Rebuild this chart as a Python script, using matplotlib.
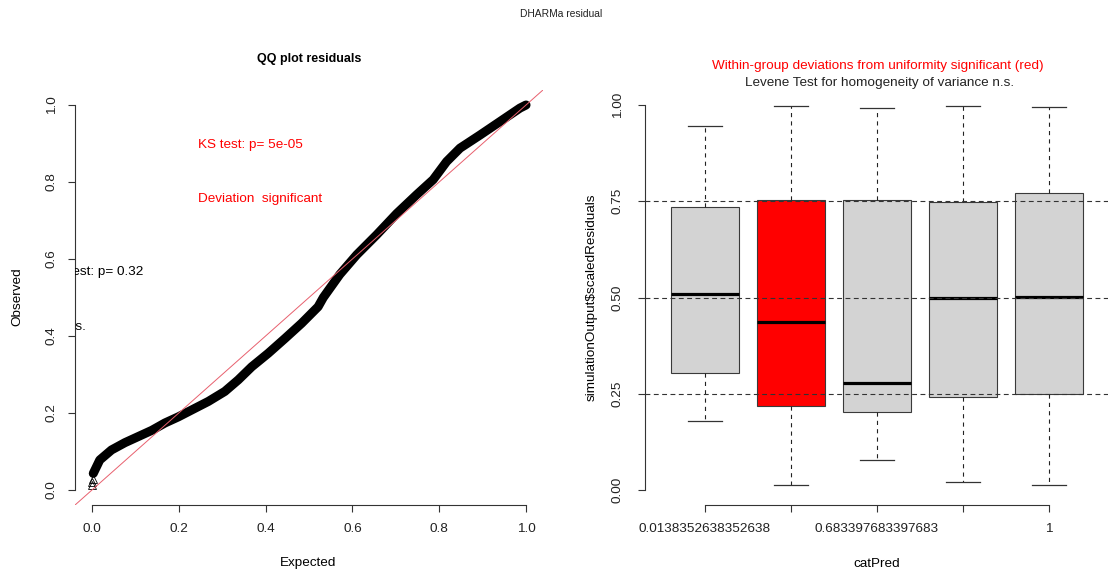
import matplotlib
matplotlib.use("Agg")
import matplotlib.pyplot as plt

plt.rcParams["font.family"] = ["Liberation Sans", "DejaVu Sans"]
plt.rcParams["lines.scale_dashes"] = False

W, H = 1108, 575

# QQ plot: expected vs observed quantiles of the scaled residuals
qq_expected = [0.003, 0.018, 0.045, 0.076, 0.107, 0.138, 0.168, 0.199, 0.230,
               0.268, 0.306, 0.337, 0.368, 0.406, 0.445, 0.483, 0.521, 0.533,
               0.571, 0.610, 0.656, 0.702, 0.748, 0.786, 0.817, 0.848, 0.894,
               0.940, 0.986, 1.0]
qq_observed = [0.043, 0.078, 0.104, 0.123, 0.139, 0.155, 0.174, 0.190, 0.208,
               0.230, 0.256, 0.286, 0.320, 0.355, 0.394, 0.433, 0.476, 0.500,
               0.560, 0.611, 0.663, 0.718, 0.767, 0.806, 0.853, 0.888, 0.922,
               0.957, 0.992, 1.0]
low_expected = [0.0, 0.001, 0.002]
low_observed = [0.012, 0.020, 0.028]

ks_text = "KS test: p= 5e-05"
ks_verdict = "Deviation  significant"
disp_text = "Dispersion test: p= 0.32"
disp_verdict = "Deviation n.s."

# boxplot of residuals per catPred group
cat_labels = ["0.0138352638352638", "", "0.683397683397683", "", "1"]
whislo = [0.179, 0.014, 0.079, 0.022, 0.014]
q1 = [0.305, 0.217, 0.203, 0.241, 0.250]
med = [0.509, 0.437, 0.277, 0.500, 0.502]
q3 = [0.736, 0.754, 0.754, 0.747, 0.771]
whishi = [0.946, 0.997, 0.993, 0.997, 0.995]
significant = [False, True, False, False, False]
ref_levels = [0.25, 0.5, 0.75]

FS = 9.7
AXCOL = "#333333"


def add_axes_px(x0, x1, ytop, ybot):
    return fig.add_axes([x0 / W, 1 - ybot / H, (x1 - x0) / W, (ybot - ytop) / H])


def r_style(ax, xb, yb):
    for s in ("top", "right"):
        ax.spines[s].set_visible(False)
    for s in ("left", "bottom"):
        ax.spines[s].set_color(AXCOL)
        ax.spines[s].set_linewidth(0.8)
    ax.spines["bottom"].set_bounds(*xb)
    ax.spines["left"].set_bounds(*yb)
    ax.tick_params(length=5, width=0.8, color=AXCOL, labelsize=FS,
                   labelcolor="#222222")
    ax.tick_params(axis="x", pad=8)
    for lab in ax.get_yticklabels():
        lab.set_rotation(90)
        lab.set_va("center")


fig = plt.figure(figsize=(W / 100, H / 100), dpi=100)
fig.text(561 / W, 1 - 14 / H, "DHARMa residual", ha="center", va="center",
         fontsize=7.4, color="#222222")

# ---- left panel: QQ plot
ax1 = add_axes_px(74.6, 543.4, 89.6, 505.4)
ax1.set_xlim(-0.04, 1.04)
ax1.set_ylim(-0.04, 1.04)
ax1.plot(qq_expected, qq_observed, color="black", lw=6.5, solid_capstyle="round",
         solid_joinstyle="round", zorder=2)
ax1.plot(low_expected, low_observed, ls="none", marker="^", ms=6,
         mfc="none", mec="black", mew=0.6, zorder=2)
ax1.axline((0, 0), (1, 1), color="#E8606E", lw=0.7, zorder=3)
ax1.set_xticks([0, 0.2, 0.4, 0.6, 0.8, 1.0])
ax1.set_yticks([0, 0.2, 0.4, 0.6, 0.8, 1.0])
ax1.set_xticklabels(["0.0", "0.2", "0.4", "0.6", "0.8", "1.0"])
ax1.set_yticklabels(["0.0", "0.2", "0.4", "0.6", "0.8", "1.0"])
r_style(ax1, (0, 1), (0, 1))
ax1.tick_params(axis="y", pad=7)
ax1.set_title("QQ plot residuals", fontsize=9, fontweight="bold", pad=20)

ax1.text(0.245, 0.897, ks_text, color="red", fontsize=FS, va="center")
ax1.text(0.245, 0.757, ks_verdict, color="red", fontsize=FS, va="center")
ax1.text(0.118, 0.565, disp_text, color="black", fontsize=FS, va="center",
         ha="right", clip_on=True)
ax1.text(-0.015, 0.424, disp_verdict, color="black", fontsize=FS, va="center",
         ha="right", clip_on=True)

fig.text(308 / W, 1 - 563 / H, "Expected", ha="center", va="center", fontsize=FS)
fig.text(17 / W, 1 - 297 / H, "Observed", ha="center", va="center",
         fontsize=FS, rotation=90)

# ---- right panel: residuals per group
ax2 = add_axes_px(644.8, 1109.2, 89.6, 505.4)
ax2.set_xlim(0.3, 5.7)
ax2.set_ylim(-0.04, 1.04)
stats = [dict(whislo=whislo[i], q1=q1[i], med=med[i], q3=q3[i],
              whishi=whishi[i], fliers=[]) for i in range(len(med))]
positions = list(range(1, len(med) + 1))
bp = ax2.bxp(stats, positions=positions, widths=0.8, capwidths=0.4,
             patch_artist=True, showfliers=False,
             boxprops=dict(edgecolor="#3a3a3a", linewidth=0.8),
             whiskerprops=dict(color="#222222", linewidth=0.8,
                               linestyle=(0, (3, 3))),
             capprops=dict(color="#333333", linewidth=0.9),
             medianprops=dict(color="black", linewidth=2.3))
for box, sig in zip(bp["boxes"], significant):
    box.set_facecolor("red" if sig else "#D3D3D3")
for lvl in ref_levels:
    ax2.axhline(lvl, color="#333333", lw=0.8, ls=(0, (3.5, 2.5)), zorder=4)

ax2.set_xticks(positions)
ax2.set_xticklabels(cat_labels)
ax2.set_yticks([0, 0.25, 0.5, 0.75, 1.0])
ax2.set_yticklabels(["0.00", "0.25", "0.50", "0.75", "1.00"])
r_style(ax2, (1, 5), (0, 1))
ax2.tick_params(axis="y", pad=10)

fig.text(878 / W, 1 - 66 / H,
         "Within-group deviations from uniformity significant (red)",
         ha="center", va="center", fontsize=FS, color="red")
fig.text(880 / W, 1 - 83 / H, "Levene Test for homogeneity of variance n.s.",
         ha="center", va="center", fontsize=FS, color="#222222")
fig.text(877 / W, 1 - 564 / H, "catPred", ha="center", va="center", fontsize=FS)
fig.text(592 / W, 1 - 297 / H, "simulationOutput$scaledResiduals",
         ha="center", va="center", fontsize=FS, rotation=90)

fig.savefig("out.png", dpi=100)
